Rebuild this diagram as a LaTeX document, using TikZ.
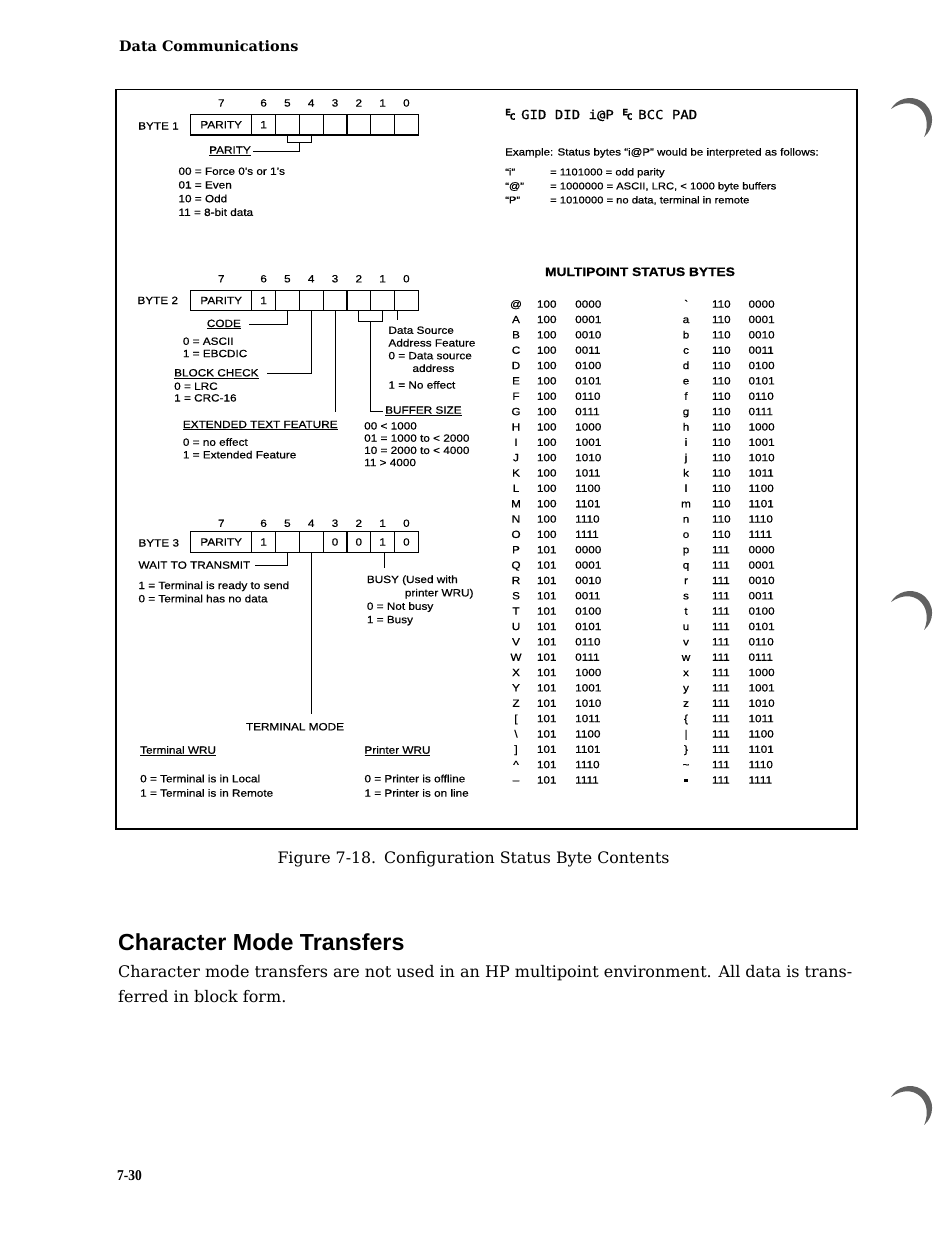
\documentclass[tikz,border=0pt]{standalone}
\usepackage{fontspec}
\usepackage{graphicx}
\usetikzlibrary{positioning,calc}

\newfontfamily\figfont[FakeStretch=1.12,FakeBold=0.5]{Liberation Sans}
\newfontfamily\headfont{Liberation Sans}
\newfontfamily\bookfont{DejaVu Serif}
\newfontfamily\dispfont[FakeStretch=1.12,FakeBold=0.6]{DejaVu Sans Mono}
\newfontfamily\folfont[FakeStretch=0.9]{Liberation Serif}

% stacked ESC glyph of the terminal display
\newcommand\escmark{\makebox[0.6em][l]{\raisebox{0.3em}{\scalebox{0.7}{\bfseries E}}\kern-0.12em\raisebox{-0.05em}{\scalebox{0.7}{\bfseries C}}}}
% low four bits of a row number
\def\dropfirst#1#2\relax{#2}
\newcommand\lowfour[1]{\pgfmathtruncatemacro\lowv{10000+1000*mod(floor(#1/8),2)+100*mod(floor(#1/4),2)+10*mod(floor(#1/2),2)+mod(#1,2)}\expandafter\dropfirst\lowv\relax}

\tikzset{
  figtext/.style={font=\figfont\fontsize{10.5}{13}\selectfont, inner sep=0pt},
  lbl/.style={figtext, anchor=base west},
  lst/.style={figtext, align=left, anchor=north west, font=\figfont\fontsize{10.5}{#1}\selectfont},
  exlst/.style={figtext, align=left, anchor=north west, font=\figfont\fontsize{10}{#1}\selectfont},
  bitcell/.style={figtext, draw, line width=1.2pt, minimum width=23.8pt, minimum height=20.5pt},
  paritycell/.style={bitcell, minimum width=60.7pt},
  bitnum/.style={figtext},
  leader/.style={line width=1pt},
  tabtext/.style={figtext, anchor=base west},
  tabchar/.style={figtext, anchor=base},
  crescent/.style={fill=black!62},
}

\begin{document}
\begin{tikzpicture}[x=1pt,y=-1pt]
  \useasboundingbox (0,0) rectangle (950,1236);
  \fill[white] (0,0) rectangle (950,1236);

  % Page head
  \node[anchor=base west, inner sep=0pt, font=\bookfont\bfseries\fontsize{14.4}{17}\selectfont] (pagehead) at (119,51.5) {Data Communications};

  % Figure frame
  \draw[line width=1.4pt] (116,89.5) rectangle (857,829);

  % Byte 1
  \node[lbl] (b1lbl) at (138,129.5) {BYTE 1};
  \node[paritycell] (b1c7) at (221.2,124.7) {PARITY};
  \foreach \k/\v in {6/1,5/{},4/{},3/{},2/{},1/{},0/{}}
    \node[bitcell] (b1c\k) at ({263.6+(6-\k)*23.8},124.7) {\v};
  \foreach \k in {7,...,0}
    \node[bitnum, above=7pt of b1c\k] (b1n\k) {\k};
  \node[lbl] (b1par) at (209,153.7) {\underline{PARITY}};
  \node[lst=13.7] (b1list) at (178.3,167.3) {00 = Force 0’s or 1’s\\01 = Even\\10 = Odd\\11 = 8-bit data};

  \coordinate (b1brk) at ($(b1c5.south)!0.5!(b1c4.south)+(0,7)$);
  \draw[leader] (b1c5.south) -- ++(0,7) -| (b1c4.south);
  \draw[leader, shorten >=2pt] (b1brk) |- (b1par.east);

  % Byte 2
  \node[lbl] (b2lbl) at (137.3,304) {BYTE 2};
  \node[paritycell] (b2c7) at (221.2,300.5) {PARITY};
  \foreach \k/\v in {6/1,5/{},4/{},3/{},2/{},1/{},0/{}}
    \node[bitcell] (b2c\k) at ({263.6+(6-\k)*23.8},300.5) {\v};
  \foreach \k in {7,...,0}
    \node[bitnum, above=7pt of b2c\k] (b2n\k) {\k};
  \node[lbl] (b2code) at (206.7,327) {\underline{CODE}};
  \node[lst=12.3] (b2codel) at (182.7,337.3) {0 = ASCII\\1 = EBCDIC};
  \node[lbl] (b2blk) at (174,376.4) {\underline{BLOCK CHECK}};
  \node[lst=11.7] (b2blkl) at (174,382.3) {0 = LRC\\1 = CRC-16};
  \node[lbl] (b2ext) at (182.7,428) {\underline{EXTENDED TEXT FEATURE}};
  \node[lst=12.6] (b2extl) at (182.7,438) {0 = no effect\\1 = Extended Feature};
  \node[lbl] (b2buf) at (385,413.7) {\underline{BUFFER SIZE}};
  \node[lst=12.2] (b2bufl) at (364,422) {00 < 1000\\01 = 1000 to < 2000\\10 = 2000 to < 4000\\11 > 4000};
  \node[lst=12.7] (b2src) at (388.3,326.3) {Data Source\\Address Feature\\0 = Data source\\\hspace*{24pt}address\\[4pt]1 = No effect};

  \draw[leader, shorten >=8pt] (b2c5.south) |- (b2code.east);
  \draw[leader, shorten >=8pt] (b2c4.south) |- (b2blk.east);
  \draw[leader, shorten >=9pt] (b2c3.south) -- (b2c3.south |- b2ext.north);
  \coordinate (b2brk) at ($(b2c2.south)!0.5!(b2c1.south)+(0,10)$);
  \draw[leader] (b2c2.south) -- ++(0,10) -| (b2c1.south);
  \draw[leader, shorten >=2pt] (b2brk) |- (b2buf.west);
  \draw[leader, shorten >=6pt] ([xshift=-9pt]b2c0.south) -- ([xshift=-9pt]b2c0.south |- b2src.north);

  % Byte 3
  \node[lbl] (b3lbl) at (138.3,546.5) {BYTE 3};
  \node[paritycell] (b3c7) at (221.2,542) {PARITY};
  \foreach \k/\v in {6/1,5/{},4/{},3/0,2/0,1/1,0/0}
    \node[bitcell] (b3c\k) at ({263.6+(6-\k)*23.8},542) {\v};
  \foreach \k in {7,...,0}
    \node[bitnum, above=4pt of b3c\k] (b3n\k) {\k};
  \node[lbl] (b3wait) at (138.3,568.7) {WAIT TO TRANSMIT};
  \node[lst=13.3] (b3waitl) at (138.3,581.2) {1 = Terminal is ready to send\\0 = Terminal has no data};
  \node[lst=13.4] (b3busy) at (366.7,575.2) {BUSY (Used with\\\hspace*{38pt}printer WRU)\\0 = Not busy\\1 = Busy};
  \node[figtext] (b3mode) at (295,726.7) {TERMINAL MODE};
  \node[lbl] (b3twru) at (140,753.7) {\underline{Terminal WRU}};
  \node[lbl] (b3pwru) at (364.3,753.7) {\underline{Printer WRU}};
  \node[lst=14.4] (b3twrul) at (140,774.5) {0 = Terminal is in Local\\1 = Terminal is in Remote};
  \node[lst=14.4] (b3pwrul) at (364.3,774.5) {0 = Printer is offline\\1 = Printer is on line};

  \draw[leader, shorten >=5pt] (b3c5.south) |- (b3wait.east);
  \draw[leader, shorten >=9pt] (b3c4.south) -- (b3c4.south |- b3mode.north);
  \draw[leader, shorten >=7pt] ([xshift=2pt]b3c1.south) -- ([xshift=2pt]b3c1.south |- b3busy.north);

  % Status bytes example
  \node[anchor=west, inner sep=0pt, font=\dispfont\fontsize{12.5}{14}\selectfont] (displn) at (505,115) {\escmark\ GID DID i@P \escmark\ BCC PAD};
  \node[lbl, font=\figfont\fontsize{10.3}{12}\selectfont] (exhead) at (505,155.5) {Example: Status bytes “i@P” would be interpreted as follows:};
  \node[exlst=14] (exchr) at (505,168) {“i”\\“@”\\“P”};
  \node[exlst=14] (exval) at (550,168) {= 1101000 = odd parity\\= 1000000 = ASCII, LRC, < 1000 byte buffers\\= 1010000 = no data, terminal in remote};

  % Multipoint status bytes table
  \node[anchor=base, inner sep=0pt, font=\figfont\bfseries\fontsize{12.3}{14}\selectfont] (mphead) at (640,276) {MULTIPOINT STATUS BYTES};
  \foreach \ch [count=\i from 0] in {@,A,B,C,D,E,F,G,H,I,J,K,L,M,N,O,P,Q,R,S,T,U,V,W,X,Y,Z,{[},{\textbackslash},{]},{\textasciicircum},{–}} {
    \node[tabchar] (lc\i) at (516,{307.7+15.35*\i}) {\ch};
    \node[tabtext] (lh\i) at (536.7,{307.7+15.35*\i}) {\ifnum\i<16 100\else 101\fi};
    \node[tabtext] (ll\i) at (575,{307.7+15.35*\i}) {\lowfour{\i}};
  }
  \foreach \ch [count=\i from 0] in {{\textasciigrave},a,b,c,d,e,f,g,h,i,j,k,l,m,n,o,p,q,r,s,t,u,v,w,x,y,z,{\{},{\textbar},{\}},{\textasciitilde},{\raisebox{1.5pt}{\rule{3.4pt}{3.4pt}}}} {
    \node[tabchar] (rc\i) at (686,{307.7+15.35*\i}) {\ch};
    \node[tabtext] (rh\i) at (711.7,{307.7+15.35*\i}) {\ifnum\i<16 110\else 111\fi};
    \node[tabtext] (rl\i) at (748.3,{307.7+15.35*\i}) {\lowfour{\i}};
  }

  % Caption and running text
  \node[anchor=base, inner sep=0pt, font=\bookfont\fontsize{15.8}{19}\selectfont] (caption) at (473.5,863.5) {Figure 7-18.\enspace Configuration Status Byte Contents};
  \node[anchor=base west, inner sep=0pt, font=\headfont\bfseries\fontsize{23.2}{28}\selectfont] (sechead) at (118,950.3) {Character Mode Transfers};
  \node[anchor=base west, inner sep=0pt, font=\bookfont\fontsize{16}{25}\selectfont] (body1) at (118,977.8) {Character mode transfers are not used in an HP multipoint environment. All data is trans-};
  \node[anchor=base west, inner sep=0pt, font=\bookfont\fontsize{16}{25}\selectfont] (body2) at (118,1002.8) {ferred in block form.};
  \node[anchor=base west, inner sep=0pt, font=\folfont\bfseries\fontsize{15}{17}\selectfont] (folio) at (117,1180) {7-30};

  % Binder hole shadows
  \foreach \dy in {0,493,988}
    \fill[crescent] (891,{109+\dy}) arc[start angle=210, end angle=410, radius=22]
      .. controls (934,{113+\dy}) and (914,{93+\dy}) .. (891,{109+\dy});
\end{tikzpicture}
\end{document}
